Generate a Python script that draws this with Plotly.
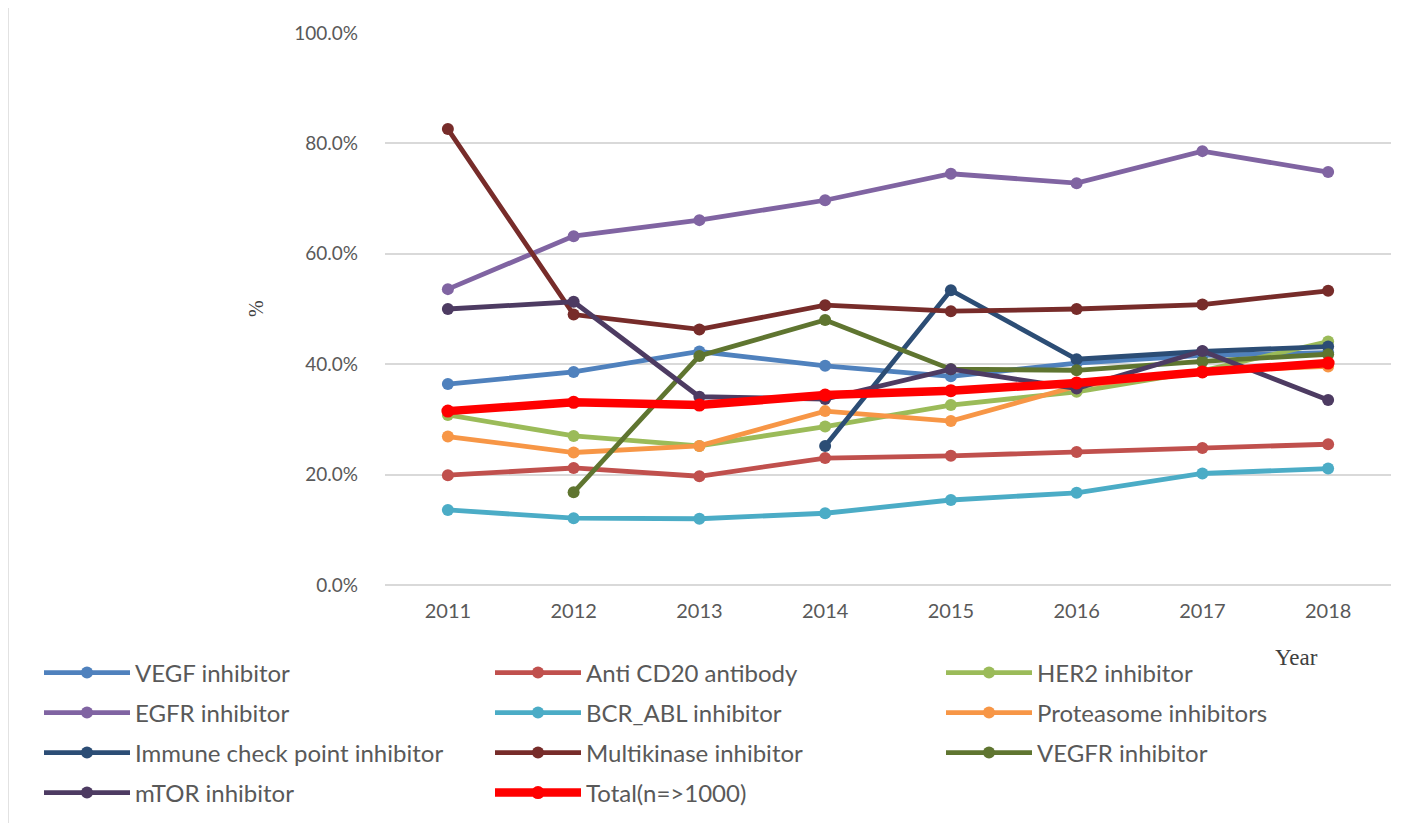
import plotly.graph_objects as go

years = ["2011", "2012", "2013", "2014", "2015", "2016", "2017", "2018"]

vegf = [36.4, 38.6, 42.3, 39.7, 37.8, 40.2, 41.6, 42.1]
anti_cd20 = [19.9, 21.2, 19.7, 23.0, 23.4, 24.1, 24.8, 25.5]
her2 = [30.8, 27.0, 25.2, 28.7, 32.6, 35.0, 38.8, 44.1]
egfr = [53.6, 63.2, 66.1, 69.7, 74.5, 72.8, 78.6, 74.8]
bcr_abl = [13.6, 12.1, 12.0, 13.0, 15.4, 16.7, 20.2, 21.1]
proteasome = [26.9, 24.0, 25.2, 31.5, 29.7, 36.0, 38.7, 39.6]
immune = [None, None, None, 25.2, 53.4, 40.9, 42.3, 43.2]
multikinase = [82.6, 49.0, 46.3, 50.7, 49.6, 50.0, 50.8, 53.3]
vegfr = [None, 16.8, 41.5, 48.0, 39.1, 38.9, 40.5, 41.8]
mtor = [50.0, 51.3, 34.1, 33.7, 39.1, 35.6, 42.4, 33.5]
total = [31.5, 33.1, 32.6, 34.4, 35.2, 36.6, 38.6, 40.2]

series = [
    ("VEGF inhibitor", vegf, "#4F81BD", "legend"),
    ("Anti CD20 antibody", anti_cd20, "#C0504D", "legend"),
    ("HER2 inhibitor", her2, "#9BBB59", "legend"),
    ("EGFR inhibitor", egfr, "#8064A2", "legend2"),
    ("BCR_ABL inhibitor", bcr_abl, "#4BACC6", "legend2"),
    ("Proteasome inhibitors", proteasome, "#F79646", "legend2"),
    ("Immune check point inhibitor", immune, "#2C4D75", "legend3"),
    ("Multikinase inhibitor", multikinase, "#772C2A", "legend3"),
    ("VEGFR inhibitor", vegfr, "#5F7530", "legend3"),
    ("mTOR inhibitor", mtor, "#4D3B62", "legend4"),
]

fig = go.Figure()
for name, vals, color, lg in series:
    fig.add_trace(go.Scatter(
        x=years, y=[v / 100 if v is not None else None for v in vals],
        mode="lines+markers", name=name, legend=lg,
        line=dict(color=color, width=4.8),
        marker=dict(color=color, size=12),
        cliponaxis=False,
    ))
fig.add_trace(go.Scatter(
    x=years, y=[v / 100 for v in total],
    mode="lines+markers", name="Total(n=>1000)", legend="legend4",
    line=dict(color="#FF0000", width=8.5),
    marker=dict(color="#FF0000", size=13),
    cliponaxis=False,
))

OFF = 8  # page body margin
W, H = 1405 - OFF, 823 - OFF
L, R, T, B = 385 - OFF, 14, 33 - OFF, 238
pw, ph = W - L - R, H - T - B

def px_x(x):  # screen x -> paper
    return (x - OFF - L) / pw

def px_y(y):  # screen y -> paper
    return (H - B - (y - OFF)) / ph

legend_font = dict(family="Lato, Open Sans, sans-serif", size=24, color="#595959")
row_ys = [673, 713, 753, 793]
legend_common = dict(orientation="h", entrywidth=350, entrywidthmode="pixels",
                     itemwidth=86, font=legend_font, bgcolor="rgba(0,0,0,0)",
                     xanchor="left", yanchor="middle", x=px_x(39))

fig.update_layout(
    width=W, height=H,
    margin=dict(l=L, r=R, t=T, b=B, autoexpand=False),
    paper_bgcolor="white", plot_bgcolor="white",
    font=dict(family="Lato, Open Sans, sans-serif", color="#595959"),
    legend=dict(**legend_common, y=px_y(row_ys[0])),
    legend2=dict(**legend_common, y=px_y(row_ys[1])),
    legend3=dict(**legend_common, y=px_y(row_ys[2])),
    legend4=dict(**legend_common, y=px_y(row_ys[3])),
    xaxis=dict(type="category", range=[-0.5, 7.5], showgrid=False,
               showline=False, ticks="", zeroline=False,
               tickfont=dict(size=20, color="#595959"), ticklabelstandoff=12),
    yaxis=dict(range=[0, 1.0], dtick=0.2, tickformat=".1%",
               showgrid=True, gridcolor="#D9D9D9", gridwidth=1.5,
               zeroline=True, zerolinecolor="#D9D9D9", zerolinewidth=1.5,
               showline=False, ticks="",
               tickfont=dict(size=19, color="#595959"), ticklabelstandoff=26),
    annotations=[
        dict(text="%", x=px_x(256), y=px_y(309), xref="paper", yref="paper",
             xanchor="center", yanchor="middle",
             showarrow=False, textangle=-90,
             font=dict(family="Liberation Serif, serif", size=20, color="#404040")),
        dict(text="Year", x=px_x(1296), y=px_y(657), xref="paper", yref="paper",
             xanchor="center", yanchor="middle",
             showarrow=False,
             font=dict(family="Liberation Serif, serif", size=23, color="#404040")),
    ],
    shapes=[
        dict(type="line", xref="paper", yref="paper", x0=px_x(8), x1=px_x(8),
             y0=px_y(0), y1=px_y(823), line=dict(color="#D9D9D9", width=1.5)),
        dict(type="line", xref="paper", yref="paper", x0=px_x(1400), x1=px_x(1400),
             y0=px_y(0), y1=px_y(823), line=dict(color="#D9D9D9", width=1.5)),
    ],
)

fig.write_html("out.html")
